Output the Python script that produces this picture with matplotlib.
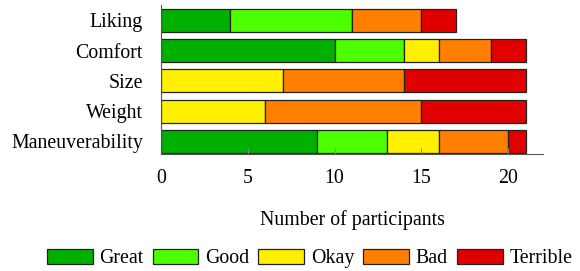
import numpy as np
import matplotlib.pyplot as plt

plt.rcParams['font.family'] = ['Liberation Serif', 'DejaVu Serif']

categories = ['Maneuverability', 'Weight', 'Size', 'Comfort', 'Liking']
ratings = ['Great', 'Good', 'Okay', 'Bad', 'Terrible']
great = [9, 0, 0, 10, 4]
good = [4, 0, 0, 4, 7]
okay = [3, 6, 7, 2, 0]
bad = [4, 9, 7, 3, 4]
terrible = [1, 6, 7, 2, 2]
colors = ['#00b000', '#4cff00', '#fff000', '#ff8000', '#e00000']

fs = 14.3

fig = plt.figure(figsize=(5.8, 2.71), dpi=100)
ax = fig.add_axes([0.2776, 0.4317, 0.6586, 0.5498])

y = np.arange(len(categories))
left = np.zeros(len(categories))
for name, vals, c in zip(ratings, [great, good, okay, bad, terrible], colors):
    vals = np.array(vals, dtype=float)
    ax.barh(y, vals, left=left, height=0.76, color=c, edgecolor='#222222',
            linewidth=0.9, label=name)
    left += vals

ax.set_xlim(0, 22)
ax.set_ylim(-0.42, 4.51)
ax.set_yticks(y)
ax.set_yticklabels(categories, fontsize=fs)
ax.set_xticks([0, 5, 10, 15, 20])
ax.tick_params(axis='x', labelsize=fs, direction='in', length=4, color='#888888', pad=11)
ax.tick_params(axis='y', length=0, pad=13)
for s in ['top', 'right']:
    ax.spines[s].set_visible(False)
for s in ['left', 'bottom']:
    ax.spines[s].set_color('#555555')
ax.set_xlabel('Number of participants', fontsize=fs, labelpad=16)

fig.legend(loc='center', bbox_to_anchor=(0.534, 0.045), ncol=5, fontsize=fs,
           frameon=False, handlelength=2.3, handleheight=0.75, handletextpad=0.35,
           columnspacing=0.45, borderaxespad=0)

fig.savefig('out.png', dpi=100)
